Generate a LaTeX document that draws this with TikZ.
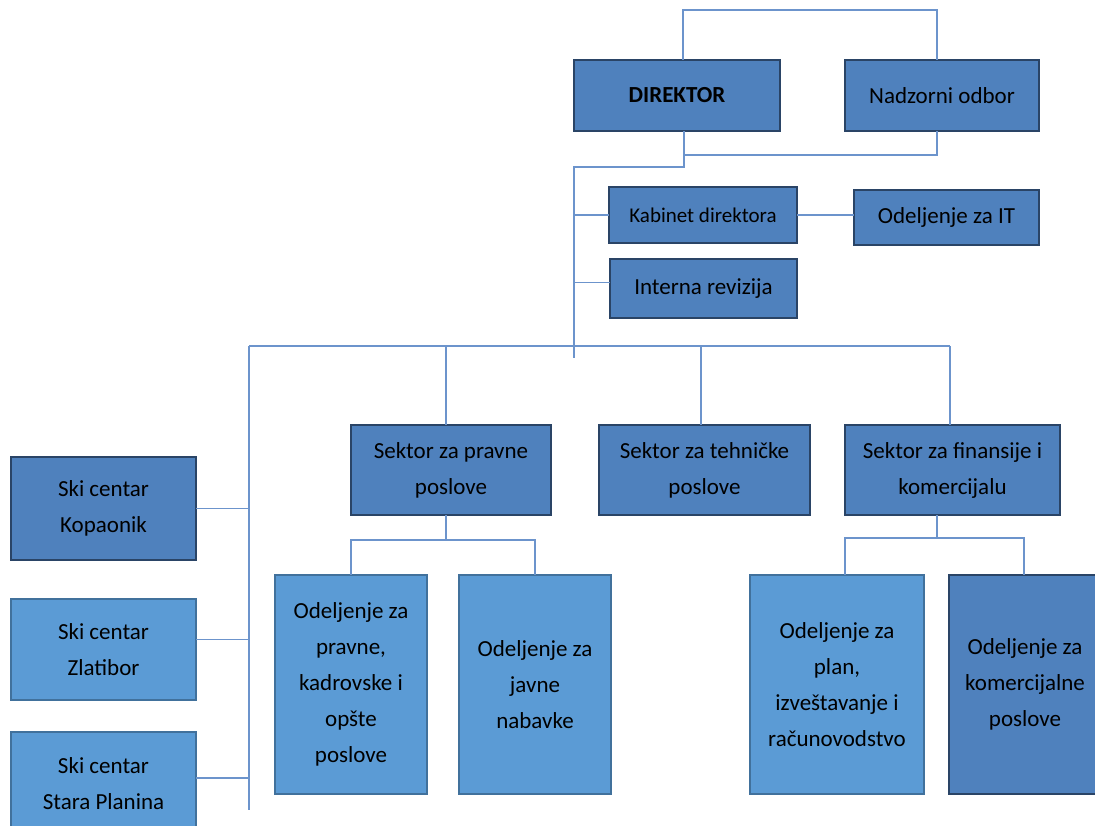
\documentclass[tikz,border=0pt]{standalone}
\usepackage{fontspec}
\setmainfont{Carlito}

\definecolor{darkfill}{RGB}{79,129,189}
\definecolor{darkline}{RGB}{42,68,102}
\definecolor{lightfill}{RGB}{91,155,213}
\definecolor{lightline}{RGB}{65,113,156}
\definecolor{linkcol}{RGB}{108,148,204}

\tikzset{every picture/.style={line width=0.75pt}}
\tikzset{
  unitbox/.style={inner sep=0pt, outer sep=0pt, align=center, font=\fontsize{23}{36}\selectfont},
  darkbox/.style={unitbox, draw=darkline, fill=darkfill, line width=2pt},
  lightbox/.style={unitbox, draw=lightline, fill=lightfill, line width=1.6pt},
  link/.style={draw=linkcol, line width=1.3pt}
}

\begin{document}
\begin{tikzpicture}[x=1pt,y=1pt,yscale=-1,xscale=1]
\useasboundingbox (0,0) rectangle (1095,825);

%Top management
\node [darkbox, minimum width=206pt, minimum height=71pt] (dir) at (677,95.5) {\textbf{DIREKTOR}};
\node [darkbox, minimum width=194pt, minimum height=71pt] (nadz) at (942,95.5) {Nadzorni odbor};
\node [darkbox, minimum width=188pt, minimum height=56pt, font=\fontsize{21}{36}\selectfont] (kab) at (703,215) {Kabinet direktora};
\node [darkbox, minimum width=185pt, minimum height=55pt] (it) at (946.5,217.5) {Odeljenje za IT};
\node [darkbox, minimum width=187pt, minimum height=59pt] (rev) at (703.5,288.5) {Interna revizija};

%Sectors
\node [darkbox, minimum width=200pt, minimum height=90pt] (spr) at (451,470) {Sektor za pravne\\poslove};
\node [darkbox, minimum width=211pt, minimum height=90pt] (steh) at (704.5,470) {Sektor za tehničke\\poslove};
\node [darkbox, minimum width=215pt, minimum height=90pt] (sfin) at (952.5,470) {Sektor za finansije i\\komercijalu};

%Ski centers
\node [darkbox, minimum width=185pt, minimum height=103pt] (kop) at (103.5,508.5) {Ski centar\\Kopaonik};
\node [lightbox, minimum width=185pt, minimum height=101pt] (zlat) at (103.5,649.5) {Ski centar\\Zlatibor};
\node [lightbox, minimum width=185pt, minimum height=104pt] (stara) at (103.5,784) {Ski centar\\Stara Planina};

%Departments
\node [lightbox, minimum width=152pt, minimum height=219pt] (opr) at (351,684.5) {Odeljenje za\\pravne,\\kadrovske i\\opšte\\poslove};
\node [lightbox, minimum width=152pt, minimum height=219pt] (ojn) at (535,684.5) {Odeljenje za\\javne\\nabavke};
\node [lightbox, minimum width=174pt, minimum height=219pt] (opl) at (837,684.5) {Odeljenje za\\plan,\\izveštavanje i\\računovodstvo};
\node [darkbox, minimum width=152pt, minimum height=219pt] (okom) at (1025,684.5) {Odeljenje za\\komercijalne\\poslove};

%Bus points
\coordinate (spineEnd) at (574,358);
\coordinate (busL) at (249,346);
\coordinate (busR) at (950,346);
\coordinate (leftEnd) at (249,810);
\coordinate (sprTop) at ([xshift=-5pt]spr.north);
\coordinate (stehTop) at ([xshift=-3.5pt]steh.north);
\coordinate (sfinTop) at ([xshift=-2.5pt]sfin.north);
\coordinate (zlatR) at ([yshift=-10pt]zlat.east);
\coordinate (staraR) at ([yshift=-6pt]stara.east);
\coordinate (revL) at ([yshift=-6pt]rev.west);

%Director links
\draw [link] ([xshift=6pt]dir.north) -- ++(0,-50) -| ([xshift=-5pt]nadz.north);
\draw [link] ([xshift=7pt]dir.south) |- ([xshift=-5pt,yshift=24pt]nadz.south) -- ([xshift=-5pt]nadz.south);
\draw [link] ([xshift=7pt]dir.south) -- ++(0,36) -| (spineEnd);
\draw [link] (kab.west) -- (kab.west -| spineEnd);
\draw [link] (revL) -- (revL -| spineEnd);
\draw [link] (kab.east) -- (kab.east -| it.west);

%Main bus
\draw [link] (busL) -- (busR);
\draw [link] (sprTop) -- (sprTop |- busL);
\draw [link] (stehTop) -- (stehTop |- busL);
\draw [link] (sfinTop) -- (sfinTop |- busL);
\draw [link] (busL) -- (leftEnd);
\draw [link] (kop.east) -- (kop.east -| busL);
\draw [link] (zlatR) -- (zlatR -| busL);
\draw [link] (staraR) -- (staraR -| busL);

%Sector links
\draw [link] ([xshift=-5pt]spr.south) -- ++(0,25);
\draw [link] (opr.north) -- ++(0,-35) -| (ojn.north);
\draw [link] ([xshift=-15.5pt]sfin.south) -- ++(0,23);
\draw [link] ([xshift=8pt]opl.north) -- ++(0,-37) -| ([xshift=-1pt]okom.north);

\end{tikzpicture}
\end{document}
